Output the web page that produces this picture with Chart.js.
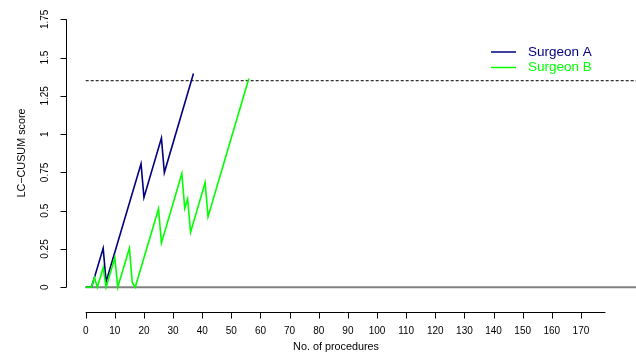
<!DOCTYPE html>
<html>
<head>
<meta charset="utf-8">
<script src="https://cdn.jsdelivr.net/npm/chart.js@4/dist/chart.umd.min.js"></script>
<style>
  body { margin: 0; background: #fff; }
  canvas { display: block; }
</style>
</head>
<body>
<canvas id="cusum" width="636" height="353"></canvas>
<script>
// procedure number / LC-CUSUM score at each turning point
var surgeonAProc  = [0, 2, 6, 7, 19, 20, 26, 27, 37];
var surgeonAScore = [0, 0, 0.255, 0.037, 0.806, 0.586, 0.974, 0.749, 1.396];

var surgeonBProc  = [0, 2, 3, 4, 6, 7, 10, 11, 15, 16, 17, 25, 26, 33, 34, 35, 36, 41, 42, 56];
var surgeonBScore = [0, 0, 0.063, 0, 0.128, 0, 0.194, 0, 0.255, 0.03, 0, 0.512, 0.29, 0.743, 0.516, 0.577, 0.359, 0.684, 0.461, 1.363];

var threshold = 1.35;

var xTicks = [0, 10, 20, 30, 40, 50, 60, 70, 80, 90, 100, 110, 120, 130, 140, 150, 160, 170];
var yTicks = [0, 0.25, 0.5, 0.75, 1, 1.25, 1.5, 1.75];
var yTickLabels = ['0', '0.25', '0.5', '0.75', '1', '1.25', '1.5', '1.75'];

var xMin = -6.76, xMax = 188.9;
var yMin = -0.083, yMax = 1.876;

function toPoints(xs, ys) {
    return xs.map(function (x, i) { return { x: x, y: ys[i] }; });
}

// R-style axes, titles and legend drawn by hand
var rAxes = {
    id: 'rAxes',
    afterDraw: function (chart) {
        var ctx = chart.ctx;
        var xs = chart.scales.x, ys = chart.scales.y;
        ctx.save();
        ctx.strokeStyle = '#000';
        ctx.fillStyle = '#000';
        ctx.lineWidth = 1;

        // y axis
        var yx = Math.round(xs.getPixelForValue(xMin)) + 0.5;
        ctx.beginPath();
        ctx.moveTo(yx, ys.getPixelForValue(yTicks[0]));
        ctx.lineTo(yx, ys.getPixelForValue(yTicks[yTicks.length - 1]));
        yTicks.forEach(function (t) {
            var py = Math.round(ys.getPixelForValue(t)) + 0.5;
            ctx.moveTo(yx, py);
            ctx.lineTo(yx - 6, py);
        });
        ctx.stroke();
        ctx.font = '10px "Liberation Sans", Arial, sans-serif';
        ctx.textAlign = 'center';
        ctx.textBaseline = 'middle';
        yTicks.forEach(function (t, i) {
            ctx.save();
            ctx.translate(45, ys.getPixelForValue(t));
            ctx.rotate(-Math.PI / 2);
            ctx.fillText(yTickLabels[i], 0, 0);
            ctx.restore();
        });

        // x axis
        var ay = 312.5;
        ctx.beginPath();
        ctx.moveTo(xs.getPixelForValue(xTicks[0]), ay);
        ctx.lineTo(xs.getPixelForValue(178.4), ay);
        xTicks.forEach(function (t) {
            var px = Math.round(xs.getPixelForValue(t)) + 0.5;
            ctx.moveTo(px, ay);
            ctx.lineTo(px, ay + 6);
        });
        ctx.stroke();
        xTicks.forEach(function (t) {
            ctx.fillText(String(t), xs.getPixelForValue(t), 331);
        });

        // titles
        ctx.font = '10.8px "Liberation Sans", Arial, sans-serif';
        ctx.fillText('No. of procedures', 336, 347.5);
        ctx.save();
        ctx.translate(22, 153);
        ctx.rotate(-Math.PI / 2);
        ctx.fillText('LC\u2212CUSUM score', 0, 0);
        ctx.restore();

        // legend
        ctx.font = '13.5px "Liberation Sans", Arial, sans-serif';
        ctx.textAlign = 'left';
        chart.data.datasets.slice(0, 2).forEach(function (ds, i) {
            var ly = 52 + i * 15.5;
            ctx.strokeStyle = ds.borderColor;
            ctx.lineWidth = 1.5;
            ctx.beginPath();
            ctx.moveTo(491, ly);
            ctx.lineTo(516, ly);
            ctx.stroke();
            ctx.fillStyle = ds.borderColor;
            ctx.fillText(ds.label, 528, ly);
        });
        ctx.restore();
    }
};

new Chart(document.getElementById('cusum'), {
    type: 'line',
    data: {
        datasets: [{
            label: 'Surgeon A',
            data: toPoints(surgeonAProc, surgeonAScore),
            borderColor: '#000080',
            borderWidth: 1.6,
            order: 2
        }, {
            label: 'Surgeon B',
            data: toPoints(surgeonBProc, surgeonBScore),
            borderColor: '#00ff00',
            borderWidth: 1.6,
            order: 1
        }, {
            label: 'zero',
            data: toPoints([0, xMax], [0, 0]),
            borderColor: '#808080',
            borderWidth: 2,
            order: 3
        }, {
            label: 'limit',
            data: toPoints([0, xMax], [threshold, threshold]),
            borderColor: '#333',
            borderWidth: 1.2,
            borderDash: [3, 2],
            order: 3
        }]
    },
    options: {
        responsive: false,
        animation: false,
        layout: { padding: { left: 66, right: 0, top: 0, bottom: 53 } },
        elements: { point: { radius: 0 }, line: { tension: 0, fill: false } },
        plugins: { legend: { display: false }, tooltip: { enabled: false } },
        scales: {
            x: { type: 'linear', min: xMin, max: xMax, display: false },
            y: { type: 'linear', min: yMin, max: yMax, display: false }
        }
    },
    plugins: [rAxes]
});
</script>
</body>
</html>
